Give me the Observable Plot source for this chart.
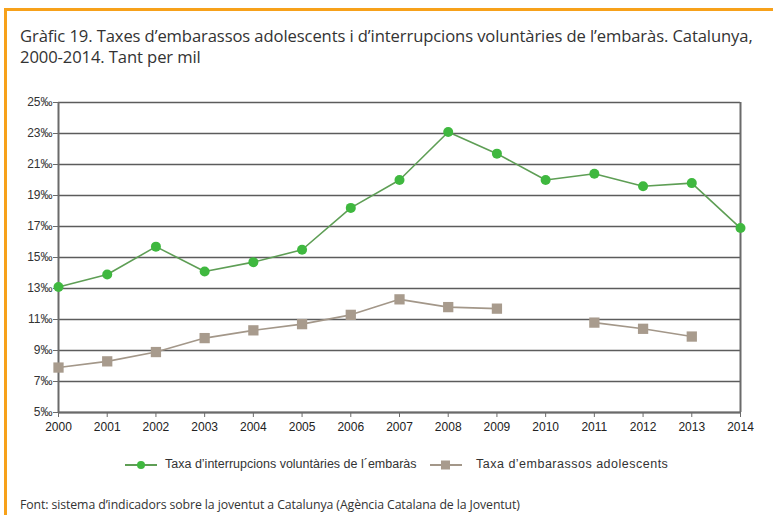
<!DOCTYPE html>
<html>
<head>
<meta charset="utf-8">
<script src="https://cdn.jsdelivr.net/npm/d3@7"></script>
<script src="https://cdn.jsdelivr.net/npm/@observablehq/plot@0.6"></script>
<style>
  html, body { margin: 0; padding: 0; background: #fff; }
  #page { position: relative; width: 773px; height: 515px; overflow: hidden; background: #fff; }
  .border-top { position: absolute; left: 4px; top: 8px; width: 769px; height: 3px; background: #f7a11a; }
  .border-left { position: absolute; left: 4px; top: 8px; width: 3px; height: 507px; background: #f7a11a; }
  #title { position: absolute; left: 20px; top: 25px; width: 752px; font-family: "Open Sans", sans-serif; font-size: 16.6px; line-height: 21px; color: #333; letter-spacing: -0.1px; }
  #chart { position: absolute; left: 0; top: 85px; }
  #legend { position: absolute; top: 458px; left: 0; width: 773px; font-family: "Liberation Sans", Arial, sans-serif; font-size: 12.5px; color: #333; }
  .li { position: absolute; display: flex; align-items: center; white-space: nowrap; }
  #caption { position: absolute; left: 20px; top: 496px; font-family: "Open Sans", sans-serif; font-size: 12.3px; color: #333; white-space: nowrap; letter-spacing: -0.1px; }
</style>
</head>
<body>
<div id="page">
  <div class="border-top"></div>
  <div class="border-left"></div>
  <div id="title">Gràfic 19. Taxes d’embarassos adolescents i d’interrupcions voluntàries de l’embaràs. Catalunya, 2000-2014. Tant per mil</div>
  <div id="chart"></div>
  <div id="legend"></div>
  <div id="caption">Font: sistema d’indicadors sobre la joventut a Catalunya (Agència Catalana de la Joventut)</div>
</div>
<script>
const years = [2000, 2001, 2002, 2003, 2004, 2005, 2006, 2007, 2008, 2009, 2010, 2011, 2012, 2013, 2014];
const interrupcions = [13.1, 13.9, 15.7, 14.1, 14.7, 15.5, 18.2, 20.0, 23.1, 21.7, 20.0, 20.4, 19.6, 19.8, 16.9];
const embarassos = [7.9, 8.3, 8.9, 9.8, 10.3, 10.7, 11.3, 12.3, 11.8, 11.7, null, 10.8, 10.4, 9.9, null];
const yTicks = [5, 7, 9, 11, 13, 15, 17, 19, 21, 23, 25];
const seriesNames = ["Taxa d’interrupcions voluntàries de l´embaràs", "Taxa d’embarassos adolescents"];
const seriesColors = { line1: "#5e9e55", dot1: "#3fb83f", line2: "#a39789", dot2: "#a89b8d" };

const dataA = years.map((y, i) => ({ year: y, v: interrupcions[i] }));
const dataB = years.map((y, i) => ({ year: y, v: embarassos[i] }));
const dataBpts = dataB.filter(d => d.v != null);

const chart = Plot.plot({
  width: 773,
  height: 357,
  marginLeft: 58,
  marginRight: 33,
  marginTop: 17,
  marginBottom: 30,
  style: { fontFamily: "Liberation Sans, Arial, sans-serif", fontSize: "12px", color: "#333", background: "transparent" },
  x: { domain: [2000, 2014] },
  y: { domain: [5, 25] },
  marks: [
    Plot.ruleY(yTicks, { stroke: "#5c5c5c", strokeWidth: 1.3 }),
    Plot.ruleX([2000, 2014], { y1: 5, y2: 25, stroke: "#6a6a6a", strokeWidth: 2 }),
    Plot.ruleY([5], { stroke: "#6a6a6a", strokeWidth: 2 }),
    Plot.axisY({ ticks: yTicks, tickFormat: d => d + "‰", tickSize: 5, tickPadding: 1, stroke: "#6a6a6a", fill: "#333", label: null }),
    Plot.axisX({ ticks: years, tickFormat: d => String(d), tickSize: 5, tickPadding: 5, stroke: "#6a6a6a", fill: "#222", label: null }),
    Plot.line(dataA, { x: "year", y: "v", stroke: seriesColors.line1, strokeWidth: 1.6 }),
    Plot.dot(dataA, { x: "year", y: "v", r: 5, fill: seriesColors.dot1, stroke: "none" }),
    Plot.line(dataB, { x: "year", y: "v", stroke: seriesColors.line2, strokeWidth: 1.6 }),
    Plot.dot(dataBpts, { x: "year", y: "v", symbol: "square", r: 5.8, fill: seriesColors.dot2, stroke: "none" })
  ]
});
document.getElementById("chart").appendChild(chart);

const legend = document.getElementById("legend");
const items = [
  { left: 125, textLeft: 165, name: seriesNames[0], line: seriesColors.line1, dot: seriesColors.dot1, shape: "circle", spacing: "0px" },
  { left: 430, textLeft: 476, name: seriesNames[1], line: seriesColors.line2, dot: seriesColors.dot2, shape: "square", spacing: "0.5px" }
];
for (const it of items) {
  const sw = document.createElement("div");
  sw.className = "li";
  sw.style.left = it.left + "px";
  const marker = it.shape === "circle"
    ? `<circle cx="16" cy="7" r="4" fill="${it.dot}"/>`
    : `<rect x="11" y="2.5" width="9" height="9" fill="${it.dot}"/>`;
  sw.innerHTML = `<svg width="32" height="14"><line x1="0" x2="32" y1="7" y2="7" stroke="${it.line}" stroke-width="2"/>${marker}</svg>`;
  legend.appendChild(sw);
  const tx = document.createElement("div");
  tx.className = "li";
  tx.style.left = it.textLeft + "px";
  tx.style.top = "-1px";
  tx.style.letterSpacing = it.spacing;
  tx.textContent = it.name;
  legend.appendChild(tx);
}
</script>
</body>
</html>
